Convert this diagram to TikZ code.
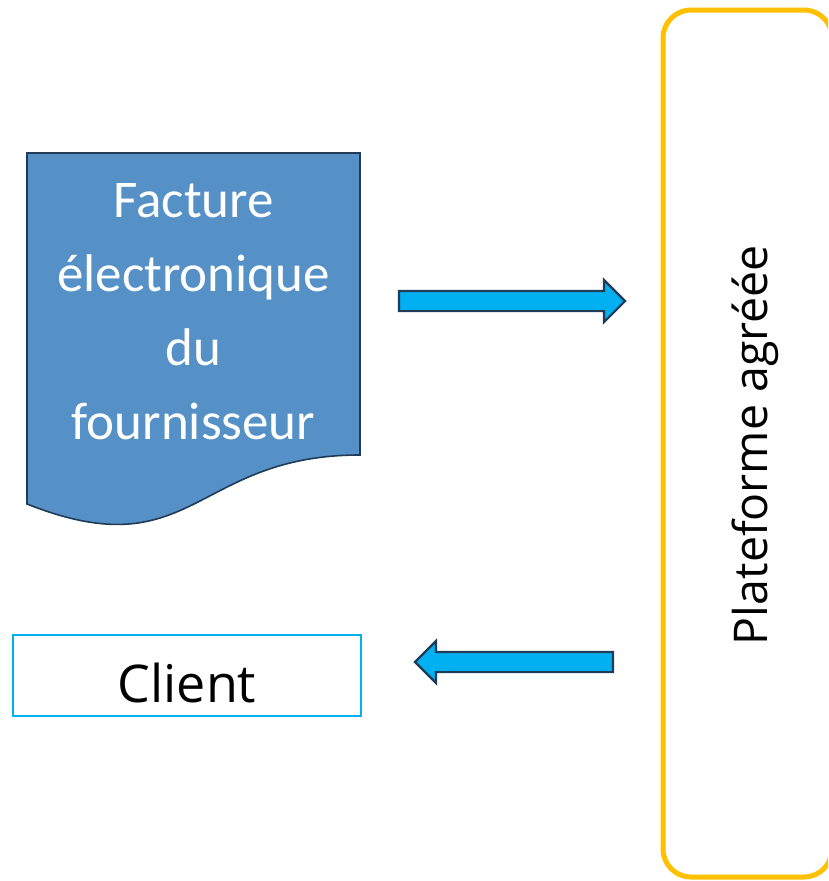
\documentclass[tikz,border=0pt]{standalone}
\usepackage{fontspec}
\setmainfont{Carlito}
\newfontfamily\plainsans{Open Sans}
\usepackage{tikz}
\usetikzlibrary{shapes,arrows,calc}
\definecolor{docblue}{HTML}{5591C6}
\definecolor{darkline}{HTML}{1F3B57}
\definecolor{flowcyan}{HTML}{00B0F0}
\definecolor{gold}{HTML}{FFC000}

\tikzset{
  flowarrow/.style={single arrow, draw=darkline, fill=flowcyan, line width=2.2pt,
    inner xsep=0pt, inner ysep=9pt, single arrow head extend=11pt},
}

\begin{document}
\begin{tikzpicture}[x=1pt,y=-1pt]
    \useasboundingbox (0,0) rectangle (828,881);
    \clip (0,0) rectangle (828,881);

    % document shape of the invoice
    \coordinate (doc-nw) at (27,153);
    \coordinate (doc-ne) at (360,153);
    \coordinate (doc-se) at (360,455);
    \coordinate (doc-sw) at (27,504);
    \draw[fill=docblue, draw=darkline, line width=1.6pt] (doc-nw) -- (doc-ne) -- (doc-se)
        .. controls (193.5,455) and (193.5,570) .. (doc-sw) -- cycle;
    \path (193.5,312) node[align=center, text=white, font=\fontsize{53}{74}\selectfont] (facture) {Facture\\électronique\\du\\fournisseur};

    \path (187,702) node[anchor=base, draw=flowcyan, line width=1.5pt, inner sep=0pt, minimum width=348pt,
        text height=67pt, text depth=14pt, font=\plainsans\fontsize{52}{60}\selectfont] (client) {Client};

    \path (747.5,443.5) node[draw=gold, line width=5pt, rounded corners=28pt, minimum width=169pt, minimum height=867pt] (plateforme) {};
    \path (755,445) node[rotate=90, font=\plainsans\fontsize{46.5}{56}\selectfont] (plateforme-txt) {Plateforme agréée};

    \path (507,301) node[flowarrow, minimum height=226pt] (aller) {};
    \path (519,662) node[flowarrow, shape border rotate=180, minimum height=198pt] (retour) {};
\end{tikzpicture}
\end{document}
